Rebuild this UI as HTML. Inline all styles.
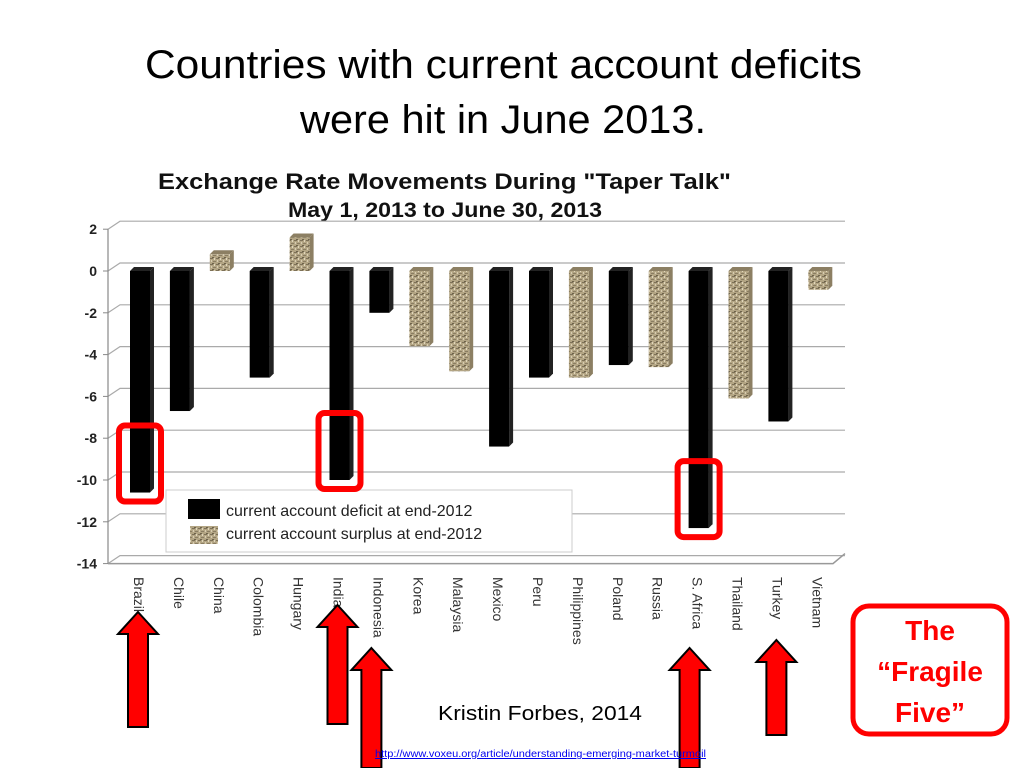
<!DOCTYPE html>
<html><head><meta charset="utf-8"><style>
html,body{margin:0;padding:0;background:#fff;width:1024px;height:768px;overflow:hidden;font-family:"Liberation Sans",sans-serif}
</style></head><body>
<svg width="1024" height="768" viewBox="0 0 1024 768" xmlns="http://www.w3.org/2000/svg">
<defs>
<pattern id="tex" width="6" height="6" patternUnits="userSpaceOnUse">
<rect width="6" height="6" fill="#b3a584"/>
<rect x="0" y="0" width="3" height="1" fill="#7d7158"/>
<rect x="3" y="3" width="3" height="1" fill="#8a7d62"/>
<rect x="1" y="2" width="1" height="2" fill="#d8cdb2"/>
<rect x="4" y="0" width="1" height="2" fill="#e0d6bc"/>
<rect x="2" y="5" width="2" height="1" fill="#6e634c"/>
</pattern>
</defs>
<text x="145" y="78" textLength="717" lengthAdjust="spacingAndGlyphs" font-size="40" fill="#000">Countries with current account deficits</text>
<text x="300" y="133" textLength="406" lengthAdjust="spacingAndGlyphs" font-size="40" fill="#000">were hit in June 2013.</text>
<text x="158" y="189" textLength="573" lengthAdjust="spacingAndGlyphs" font-size="22" font-weight="bold" fill="#111">Exchange Rate Movements During "Taper Talk"</text>
<text x="288" y="217" textLength="314" lengthAdjust="spacingAndGlyphs" font-size="21" font-weight="bold" fill="#111">May 1, 2013 to June 30, 2013</text>
<g id="chart"></g>
<text x="438" y="720" textLength="204" lengthAdjust="spacingAndGlyphs" font-size="20" fill="#000">Kristin Forbes, 2014</text>
<text x="375" y="757" textLength="331" lengthAdjust="spacingAndGlyphs" font-size="10" fill="#00e" text-decoration="underline">http://www.voxeu.org/article/understanding-emerging-market-turmoil</text>
<rect x="853" y="606" width="154" height="128" rx="16" fill="#fff" stroke="#f00" stroke-width="5"/>
<text x="930" y="640" text-anchor="middle" font-size="28" font-weight="bold" fill="#f00">The</text>
<text x="930" y="681" text-anchor="middle" font-size="28" font-weight="bold" fill="#f00">“Fragile</text>
<text x="930" y="722" text-anchor="middle" font-size="28" font-weight="bold" fill="#f00">Five”</text>
</svg>
<script>
const categories=["Brazil","Chile","China","Colombia","Hungary","India","Indonesia","Korea","Malaysia","Mexico","Peru","Philippines","Poland","Russia","S. Africa","Thailand","Turkey","Vietnam"];
const values=[-10.6,-6.7,0.8,-5.1,1.6,-10.0,-2.0,-3.6,-4.8,-8.4,-5.1,-5.1,-4.5,-4.6,-12.3,-6.1,-7.2,-0.9];
const deficit=[1,1,0,1,0,1,1,0,0,1,1,0,1,0,1,0,1,0];
const yTicks=[2,0,-2,-4,-6,-8,-10,-12,-14];
const highlighted=["Brazil","India","S. Africa"];
const arrowed=["Brazil","India","Indonesia","S. Africa","Turkey"];
const arrowTops=[612,605,648,648,640];
const arrowBottoms=[727,724,768,768,735];
const NS="http://www.w3.org/2000/svg";
const g=document.getElementById('chart');
const y=v=>271-v*20.9;
const x=i=>140+i*39.9;
function mk(t,a,p){const e=document.createElementNS(NS,t);for(const k in a)e.setAttribute(k,a[k]);(p||g).appendChild(e);return e;}
let w=mk('polygon',{points:"108,235 120,221 845,221 845,556 833,570 108,570",fill:"#fff"});


yTicks.forEach(t=>{
 const yy=y(t);
 let l=mk('polyline',{points:`108,${yy} 120,${yy-8} 845,${yy-8}`,fill:"none",stroke:"#aaa","stroke-width":1.2});
 
 
 let tk=mk('line',{x1:103,x2:108,y1:yy,y2:yy,stroke:"#888"});
 
 
 let tx=mk('text',{x:97,y:yy+5,"text-anchor":"end","font-size":14,"font-weight":"bold",fill:"#222"});
 tx.textContent=t;
 
 
});
let ax=mk('line',{x1:108,x2:108,y1:y(2),y2:y(-14),stroke:"#888","stroke-width":1.2});


let fl=mk('polyline',{points:`108,${y(-14)} 833,${y(-14)} 845,${y(-14)-10}`,fill:"none",stroke:"#999","stroke-width":1.5});


let lg=mk('rect',{x:166,y:490,width:406,height:62,fill:"#fff",stroke:"#ccc"});


let l1=mk('rect',{x:188,y:499,width:32,height:20,fill:"#000"});


let l2=mk('rect',{x:190,y:526,width:28,height:18,fill:"url(#tex)"});


let t1=mk('text',{x:226,y:516,"font-size":16,fill:"#222"});t1.textContent="current account deficit at end-2012";


let t2=mk('text',{x:226,y:539,"font-size":16,fill:"#222"});t2.textContent="current account surplus at end-2012";


categories.forEach((c,i)=>{
 const v=values[i],cx=x(i),bw=20,d=4;
 const top=Math.min(y(v),y(0)),bot=Math.max(y(v),y(0));
 const fill=deficit[i]?"#000":"url(#tex)";
 const side=deficit[i]?"#222":"#8c7f63";
 let s=mk('polygon',{points:`${cx+bw/2},${top} ${cx+bw/2+d},${top-4} ${cx+bw/2+d},${bot-4} ${cx+bw/2},${bot}`,fill:side});
 
 
 let tp=mk('polygon',{points:`${cx-bw/2},${top} ${cx-bw/2+d},${top-4} ${cx+bw/2+d},${top-4} ${cx+bw/2},${top}`,fill:side});
 
 
 let r=mk('rect',{x:cx-bw/2,y:top,width:bw,height:bot-top,fill:fill});
 
 
 let lb=mk('text',{x:0,y:0,"font-size":14,fill:"#333",transform:`translate(${cx-6},577) rotate(90)`});
 lb.textContent=c;
 
 
 if(highlighted.includes(c)){
  let hb=mk('rect',{x:cx-21,y:y(v)-67,width:42,height:76,rx:6,fill:"none",stroke:"#f00","stroke-width":6});
  
  
 }
 const ai=arrowed.indexOf(c);
 if(ai>=0){
  const t=arrowTops[ai],b=arrowBottoms[ai],ac=cx-2+(c==="Indonesia"?-6:0)+(c==="S. Africa"?-7:0);
  let ar=mk('polygon',{points:`${ac},${t} ${ac+20},${t+22} ${ac+10},${t+22} ${ac+10},${b} ${ac-10},${b} ${ac-10},${t+22} ${ac-20},${t+22}`,fill:"#f00",stroke:"#000","stroke-width":2});
  
  
 }
});
</script>
</body></html>
